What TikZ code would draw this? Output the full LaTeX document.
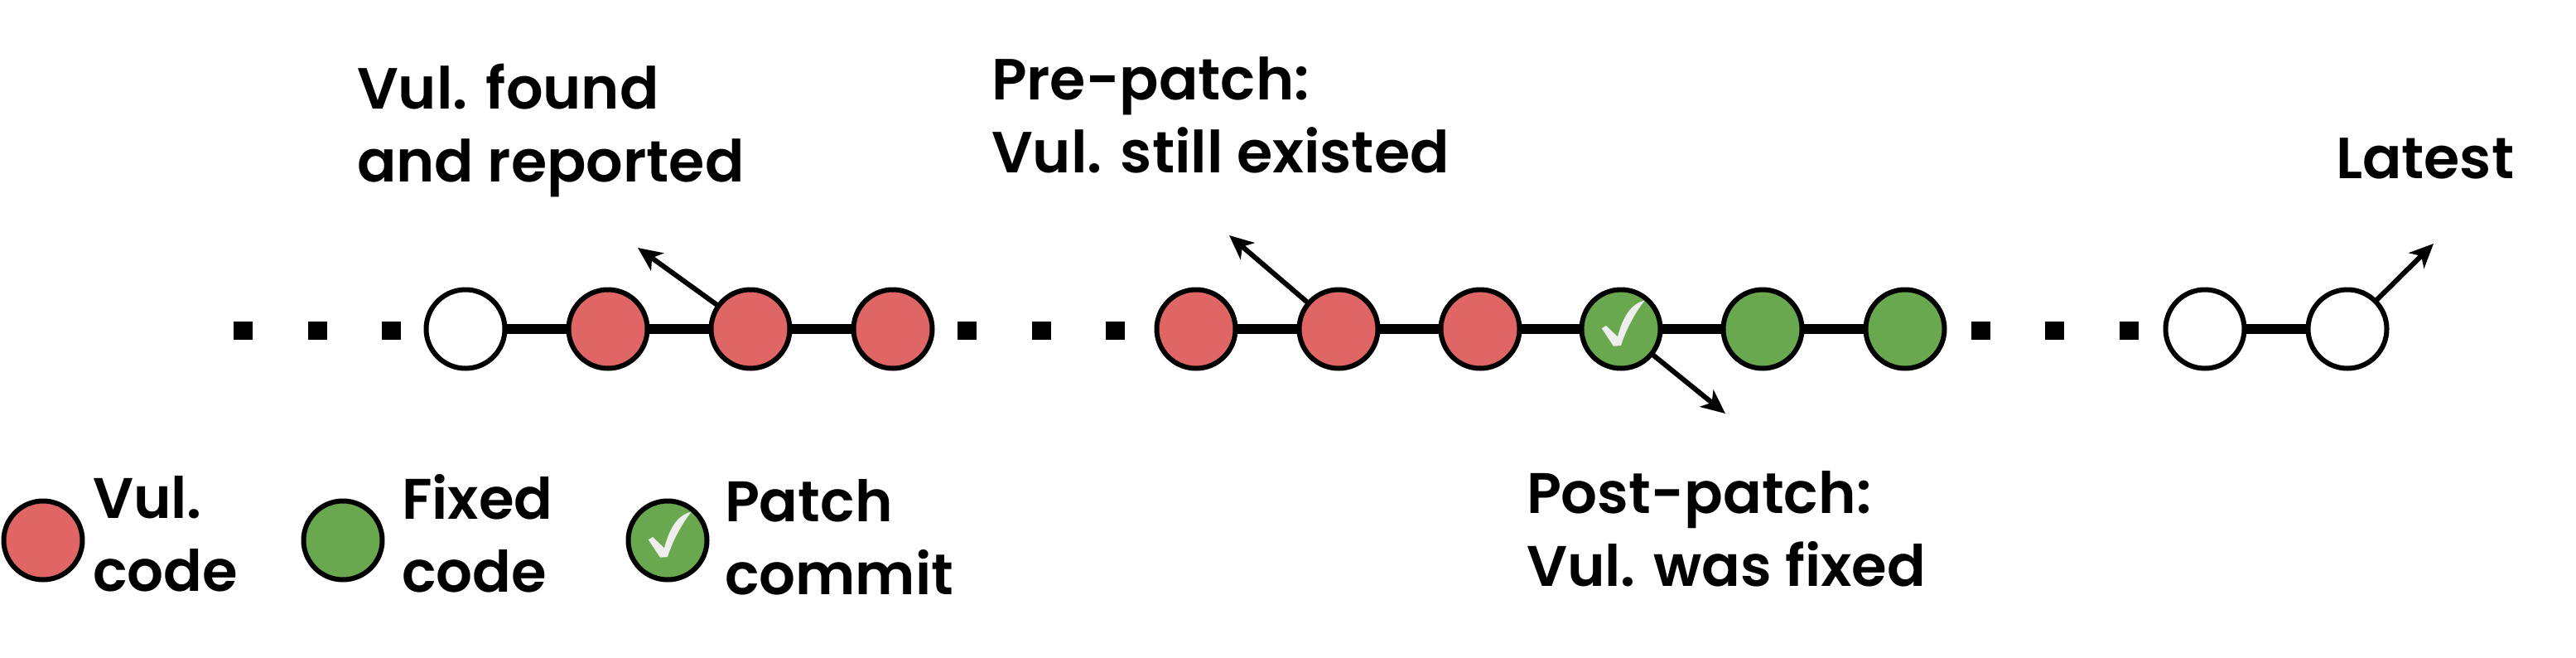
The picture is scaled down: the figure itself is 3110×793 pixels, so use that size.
\documentclass[tikz,border=0pt]{standalone}
\usepackage{fontspec}
\setmainfont{Poppins}[UprightFont=* SemiBold]
\usetikzlibrary{arrows.meta}
\definecolor{vulred}{HTML}{E06666}
\definecolor{fixgreen}{HTML}{6AA84F}
\definecolor{tickgrey}{HTML}{EEEEEE}
\tikzset{
  commit/.style={circle,draw=black,line width=6pt,minimum size=95pt,inner sep=0pt,outer sep=0pt,fill=white},
  vul/.style={commit,fill=vulred},
  fixed/.style={commit,fill=fixgreen},
  dotmark/.style={rectangle,fill=black,minimum width=23pt,minimum height=22pt,inner sep=0pt,outer sep=0pt},
  link/.style={line width=12pt},
  pointer/.style={line width=6pt,-{Stealth[length=29pt,width=26pt,inset=8pt]}},
  label/.style={anchor=west,inner sep=0pt,outer sep=0pt,align=left,font=\fontsize{69}{88}\selectfont},
  toplabel/.style={label,font=\fontsize{70}{88}\selectfont},
}
\newcommand{\tickon}[1]{\fill[tickgrey,shift={(#1)}] (-23.3,-0.7) -- (-18,-4) -- (-4,9.3) .. controls (2,-14) and (12,-31) .. (28.7,-34.3) .. controls (19.3,-23.3) and (6,0) .. (0,20) -- (-9,20.7) -- cycle;}
\begin{document}
\begin{tikzpicture}[x=1pt,y=-1pt]
\useasboundingbox (0,0) rectangle (3110,793);
\foreach \n/\x/\st in {a/562/commit,b/734/vul,c/906/vul,d/1078/vul,e/1444/vul,f/1616/vul,g/1787/vul,h/1957/fixed,i/2128/fixed,j/2300/fixed,k/2662/commit,l/2834/commit}{
  \node[\st] (\n) at (\x,397) {};
}
\foreach \u/\v in {a/b,b/c,c/d,e/f,f/g,g/h,h/i,i/j,k/l}{\draw[link] (\u) -- (\v);}
\tickon{h}
\foreach \n/\x in {p1/293,p2/383,p3/472,q1/1167,q2/1257,q3/1346,r1/2391,r2/2480,r3/2570}{
  \node[dotmark] (\n) at (\x,399) {};
}
\coordinate (t1) at (770,299);
\coordinate (t2) at (1484,284);
\coordinate (t3) at (2083,499);
\coordinate (t4) at (2938,294);
\draw[pointer] (c) -- (t1);
\draw[pointer] (f) -- (t2);
\draw[pointer] (h) -- (t3);
\draw[pointer] (l) -- (t4);
\node[toplabel] (l1) at (431,157) {Vul. found\\and reported};
\node[toplabel] (l2) at (1197,139) {Pre-patch:\\Vul. still existed};
\node[label] (l3) at (1843,638) {Post-patch:\\Vul. was fixed};
\node[toplabel] (l4) at (2820,191) {Latest};
\node[vul] (ka) at (52,652) {};
\node[label] (kat) at (112,644) {Vul.\\code};
\node[fixed] (kb) at (414,652) {};
\node[label] (kbt) at (485,644) {Fixed\\code};
\node[fixed] (kc) at (806,652) {};
\tickon{kc}
\node[label] (kct) at (875,648) {Patch\\commit};
\end{tikzpicture}
\end{document}
